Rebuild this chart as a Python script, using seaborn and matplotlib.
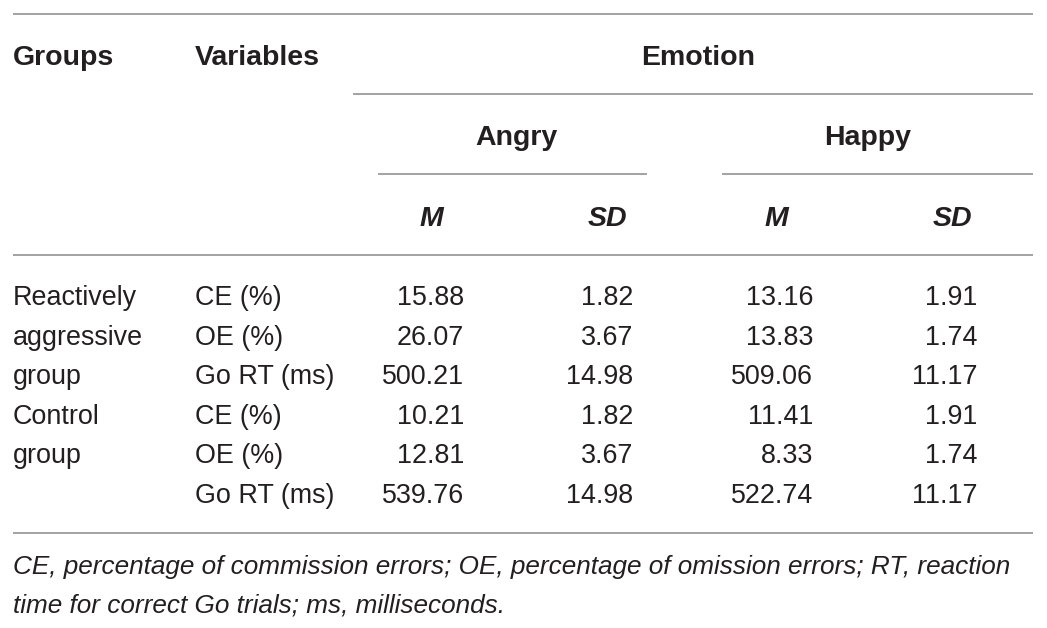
import matplotlib
matplotlib.use("Agg")
import matplotlib.pyplot as plt
import seaborn as sns

# ---- data ----
groups_lines = ["Reactively", "aggressive", "group", "Control", "group", ""]
variables = ["CE (%)", "OE (%)", "Go RT (ms)", "CE (%)", "OE (%)", "Go RT (ms)"]
angry_m = ["15.88", "26.07", "500.21", "10.21", "12.81", "539.76"]
angry_sd = ["1.82", "3.67", "14.98", "1.82", "3.67", "14.98"]
happy_m = ["13.16", "13.83", "509.06", "11.41", "8.33", "522.74"]
happy_sd = ["1.91", "1.74", "11.17", "1.91", "1.74", "11.17"]
footnote = ["CE, percentage of commission errors; OE, percentage of omission errors; RT, reaction",
            "time for correct Go trials; ms, milliseconds."]

sns.set_theme(style="white")
plt.rcParams['font.family'] = ['Liberation Sans', 'DejaVu Sans']

W, H = 1047, 628
fig = plt.figure(figsize=(W / 100, H / 100), dpi=100)
ax = fig.add_axes([0, 0, 1, 1])
ax.set_xlim(0, W)
ax.set_ylim(H, 0)
ax.axis("off")

txt = "#231f20"
rule = "#9b9b9b"
fs_body = 19.4
fs_head = 20.5
fs_note = 18.8

# rules
for y, x0, x1 in [(14, 13, 1033), (94, 353, 1033), (174, 378, 647),
                  (174, 722, 1033), (255, 13, 1033), (533, 13, 1033)]:
    ax.plot([x0, x1], [y, y], color=rule, lw=1.3, solid_capstyle="butt")

# headers
ax.text(13, 65, "Groups", fontsize=fs_head, fontweight="bold", color=txt, va="baseline", ha="left")
ax.text(195, 65, "Variables", fontsize=fs_head, fontweight="bold", color=txt, va="baseline", ha="left")
ax.text(698, 65, "Emotion", fontsize=fs_head, fontweight="bold", color=txt, va="baseline", ha="center")
ax.text(516, 145, "Angry", fontsize=fs_head, fontweight="bold", color=txt, va="baseline", ha="center")
ax.text(868, 145, "Happy", fontsize=fs_head, fontweight="bold", color=txt, va="baseline", ha="center")
for xc, lab in [(431, "M"), (607, "SD"), (776, "M"), (952, "SD")]:
    ax.text(xc, 226, lab, fontsize=fs_head, fontweight="bold", fontstyle="italic",
            color=txt, va="baseline", ha="center")

# body
baselines = [305, 344.6, 384.2, 423.8, 463.4, 503]
cols = [(464, angry_m), (633, angry_sd), (813, happy_m), (977, happy_sd)]
for i, yb in enumerate(baselines):
    ax.text(13, yb, groups_lines[i], fontsize=fs_body, color=txt, va="baseline", ha="left")
    ax.text(195, yb, variables[i], fontsize=fs_body, color=txt, va="baseline", ha="left")
    for xr, vals in cols:
        ax.text(xr, yb, vals[i], fontsize=fs_body, color=txt, va="baseline", ha="right")

# footnote
for yb, line in zip([574, 613], footnote):
    ax.text(13, yb, line, fontsize=fs_note, fontstyle="italic", color=txt, va="baseline", ha="left")

fig.savefig("out.png", dpi=100, facecolor="white")
